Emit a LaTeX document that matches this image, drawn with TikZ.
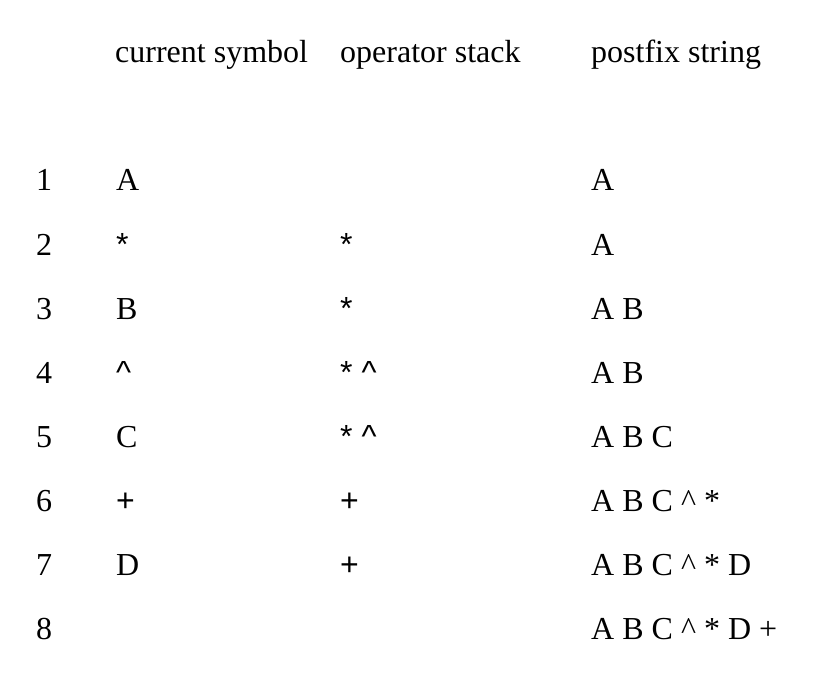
\documentclass[tikz,border=0pt]{standalone}
\usepackage{fontspec}
\setmainfont{Liberation Serif}
\newfontfamily\opfont{Liberation Sans}
\usetikzlibrary{positioning}
\tikzset{
    txt/.style = {anchor=base west, inner sep=0pt, font=\fontsize{32}{38}\selectfont},
    hdr/.style = {txt},
    num/.style = {txt},
    sym/.style = {txt},
    ops/.style = {txt, font=\fontsize{32}{38}\selectfont\opfont},
}

\begin{document}
\begin{tikzpicture}[x=1pt,y=-1pt]
%
\path[use as bounding box] (0,0) rectangle (824,676);
%
\node[hdr] at (115,63) (hcur) {current symbol};
\node[hdr] at (340,63) (hstk) {operator stack};
\node[hdr] at (591,63) (hpost) {postfix string};
%
\node[num] at (36,191) (n1) {1};
\node[num] at (36,255) (n2) {2};
\node[num] at (36,319) (n3) {3};
\node[num] at (36,383) (n4) {4};
\node[num] at (36,447) (n5) {5};
\node[num] at (36,511) (n6) {6};
\node[num] at (36,575) (n7) {7};
\node[num] at (36,639) (n8) {8};
%
\node[sym] at (116,191) (c1) {A};
\node[ops] at (116,255) (c2) {*};
\node[sym] at (116,319) (c3) {B};
\node[ops] at (116,383) (c4) {\^{}};
\node[sym] at (116,447) (c5) {C};
\node[ops] at (116,511) (c6) {+};
\node[sym] at (116,575) (c7) {D};
%
\node[ops] at (340,255) (s2) {*};
\node[ops] at (340,319) (s3) {*};
\node[ops] at (340,383) (s4) {* \^{}};
\node[ops] at (340,447) (s5) {* \^{}};
\node[ops] at (340,511) (s6) {+};
\node[ops] at (340,575) (s7) {+};
%
\node[sym] at (591,191) (p1) {A};
\node[sym] at (591,255) (p2) {A};
\node[sym] at (591,319) (p3) {A B};
\node[sym] at (591,383) (p4) {A B};
\node[sym] at (591,447) (p5) {A B C};
\node[sym] at (591,511) (p6) {A B C \^{} *};
\node[sym] at (591,575) (p7) {A B C \^{} * D};
\node[sym] at (591,639) (p8) {A B C \^{} * D +};
%
\end{tikzpicture}
\end{document}
